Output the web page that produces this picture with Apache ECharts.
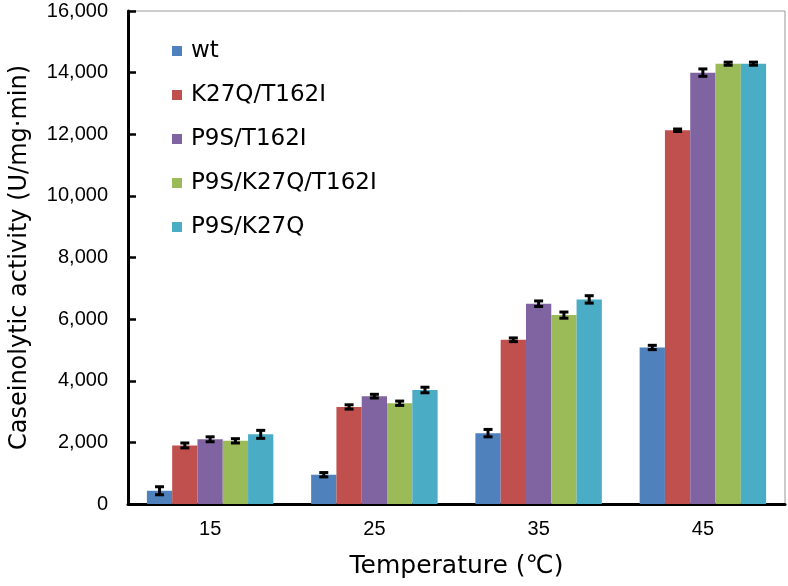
<!DOCTYPE html>
<html>
<head>
<meta charset="utf-8">
<script src="https://cdn.jsdelivr.net/npm/echarts@6/dist/echarts.min.js"></script>
<style>html,body{margin:0;padding:0;background:#fff;}#c{width:788px;height:586px;}</style>
</head>
<body>
<div id="c"></div>
<script>
const categories = ['15', '25', '35', '45'];
const seriesNames = ['wt', 'K27Q/T162I', 'P9S/T162I', 'P9S/K27Q/T162I', 'P9S/K27Q'];
const wt = [430, 950, 2300, 5080];
const k27qT162i = [1900, 3150, 5330, 12130];
const p9sT162i = [2100, 3500, 6500, 14000];
const p9sK27qT162i = [2050, 3270, 6130, 14290];
const p9sK27q = [2260, 3700, 6640, 14290];
const wtErr = [130, 70, 120, 70];
const k27qT162iErr = [80, 70, 60, 40];
const p9sT162iErr = [80, 60, 90, 120];
const p9sK27qT162iErr = [70, 70, 100, 50];
const p9sK27qErr = [130, 90, 120, 50];
const yTicks = { min: 0, max: 16000, interval: 2000 };

const values = [wt, k27qT162i, p9sT162i, p9sK27qT162i, p9sK27q];
const errors = [wtErr, k27qT162iErr, p9sT162iErr, p9sK27qT162iErr, p9sK27qErr];
const colors = ['#4F81BD', '#C0504D', '#8064A2', '#9BBB59', '#4BACC6'];
const catGap = 0.23;
const nSeries = values.length;

const series = [];
values.forEach((vals, i) => {
  series.push({
    name: seriesNames[i], type: 'bar', data: vals,
    barGap: '0%', barCategoryGap: (catGap * 100) + '%',
    itemStyle: { color: colors[i] }, z: 2
  });
});
values.forEach((vals, i) => {
  series.push({
    name: seriesNames[i] + ' err', type: 'custom', z: 5,
    data: vals.map((v, j) => [j, v - errors[i][j], v + errors[i][j]]),
    encode: { x: 0, y: [1, 2] },
    renderItem: function (params, api) {
      const band = api.size([1, 0])[0];
      const bw = band * (1 - catGap) / nSeries;
      const off = (i - (nSeries - 1) / 2) * bw;
      const lo = api.coord([api.value(0), api.value(1)]);
      const hi = api.coord([api.value(0), api.value(2)]);
      const x = lo[0] + off;
      const cap = 4.5;
      const st = { stroke: '#000', lineWidth: 3 };
      return { type: 'group', children: [
        { type: 'line', shape: { x1: x, y1: lo[1], x2: x, y2: hi[1] }, style: st },
        { type: 'line', shape: { x1: x - cap, y1: lo[1], x2: x + cap, y2: lo[1] }, style: st },
        { type: 'line', shape: { x1: x - cap, y1: hi[1], x2: x + cap, y2: hi[1] }, style: st }
      ]};
    },
    silent: true
  });
});

const chart = echarts.init(document.getElementById('c'));
chart.setOption({
  animation: false,
  backgroundColor: '#fff',
  grid: { left: 127, right: 3, top: 11, bottom: 82, show: true, borderColor: '#999', borderWidth: 1 },
  legend: {
    data: seriesNames, orient: 'vertical', left: 167, top: 34,
    itemWidth: 10, itemHeight: 10, itemGap: 20, icon: 'rect',
    textStyle: { fontFamily: 'DejaVu Sans', fontSize: 23, color: '#000', lineHeight: 24, padding: [0, 0, 0, 4] }
  },
  xAxis: {
    type: 'category', data: categories,
    axisLine: { lineStyle: { color: '#000', width: 3 } },
    axisTick: { inside: true, length: 7, lineStyle: { color: '#000', width: 2.5 } },
    axisLabel: { color: '#000', fontFamily: 'Liberation Sans', fontSize: 20, margin: 15 },
    name: 'Temperature (\u2103)', nameLocation: 'middle', nameGap: 50,
    nameTextStyle: { fontFamily: 'DejaVu Sans, Noto Sans CJK KR', fontSize: 25, color: '#000' }
  },
  yAxis: {
    type: 'value', min: yTicks.min, max: yTicks.max, interval: yTicks.interval,
    axisLine: { show: true, lineStyle: { color: '#000', width: 3 } },
    axisTick: { show: true, inside: true, length: 8, lineStyle: { color: '#000', width: 2.5 } },
    splitLine: { show: false },
    axisLabel: { color: '#000', fontFamily: 'Liberation Sans', fontSize: 20, margin: 20,
      formatter: v => v.toLocaleString('en-US') },
    name: 'Caseinolytic activity (U/mg\u00b7min)', nameLocation: 'middle', nameGap: 96,
    nameTextStyle: { fontFamily: 'DejaVu Sans', fontSize: 24, color: '#000' }
  },
  series: series
});
</script>
</body>
</html>
